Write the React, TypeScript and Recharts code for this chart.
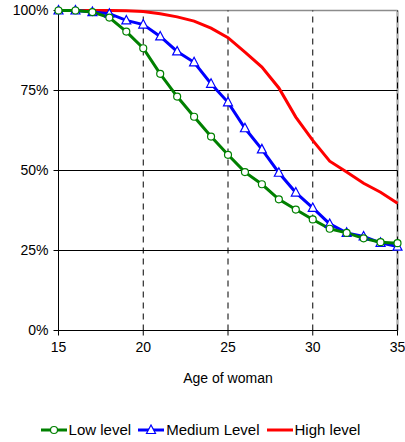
import React from "react";
import {
    LineChart,
    Line,
    XAxis,
    YAxis,
    ReferenceLine,
    Legend,
} from "recharts";

// Values (percent)
const ages = [15, 16, 17, 18, 19, 20, 21, 22, 23, 24, 25, 26, 27, 28, 29, 30, 31, 32, 33, 34, 35];
const lowLevel = [100, 100, 99.5, 97.8, 93.4, 88.2, 80.2, 73.1, 66.8, 60.6, 54.9, 49.5, 45.7, 41.0, 37.8, 34.7, 31.8, 30.5, 28.8, 27.6, 27.3];
const mediumLevel = [100, 100, 99.5, 99, 96.9, 95.6, 91.9, 87.2, 83.8, 77.1, 71.3, 63.2, 56.6, 49.3, 43.1, 38.3, 33.3, 30.5, 29.4, 27.4, 26.2];
const highLevel = [100, 100, 100, 100, 99.9, 99.7, 99.0, 98.0, 96.7, 94.5, 91.5, 87.0, 82.3, 75.8, 66.7, 59.4, 52.9, 49.5, 46.0, 43.2, 39.8];

const xTicks = [15, 20, 25, 30, 35];
const yTicks = [0, 25, 50, 75, 100];

const data = ages.map((age, i) => ({
    age,
    low: lowLevel[i],
    medium: mediumLevel[i],
    high: highLevel[i],
}));

const FONT = "'Liberation Sans', Arial, sans-serif";

const Triangle = (props: any) => {
    const { cx, cy, index } = props;
    if (cx == null || cy == null) return null;
    return (
        <polygon
            key={`tri-${index}`}
            points={`${cx},${cy - 5} ${cx - 4.5},${cy + 3.5} ${cx + 4.5},${cy + 3.5}`}
            fill="#fff"
            stroke="#0000ff"
            strokeWidth={1.2}
        />
    );
};

const legendItems = [
    { label: "Low level", color: "#008000", marker: "circle" },
    { label: "Medium Level", color: "#0000ff", marker: "triangle" },
    { label: "High level", color: "#ff0000", marker: "none" },
];

const renderLegend = () => (
    <div
        style={{
            display: "flex",
            justifyContent: "center",
            alignItems: "center",
            fontFamily: FONT,
            fontSize: 15,
            color: "#000",
            paddingTop: 19,
            paddingLeft: 10,
        }}
    >
        {legendItems.map((item) => (
            <div key={item.label} style={{ display: "flex", alignItems: "center", marginRight: 7 }}>
                <svg width={26} height={12} style={{ marginRight: 2 }}>
                    <line x1={0} y1={6} x2={26} y2={6} stroke={item.color} strokeWidth={3} />
                    {item.marker === "circle" && (
                        <circle cx={13} cy={6} r={3.5} fill="#fff" stroke={item.color} strokeWidth={1.2} />
                    )}
                    {item.marker === "triangle" && (
                        <polygon points="13,1 8.5,9.5 17.5,9.5" fill="#fff" stroke={item.color} strokeWidth={1.2} />
                    )}
                </svg>
                <span>{item.label}</span>
            </div>
        ))}
    </div>
);

export default function App() {
    return (
        <div style={{ position: "absolute", left: 0, top: 0, width: 405, height: 442, background: "#fff" }}>
            <LineChart
                width={405}
                height={442}
                data={data}
                margin={{ top: 10.5, right: 7.5, bottom: 0, left: 0.5 }}
            >
                {/* top and right border */}
                <ReferenceLine y={100} stroke="#8c8c8c" strokeWidth={1.5} />
                <ReferenceLine x={35} stroke="#b0b0b0" strokeWidth={2.5} />
                {/* horizontal grid */}
                {[25, 50, 75].map((v) => (
                    <ReferenceLine key={`h${v}`} y={v} stroke="#000" strokeWidth={1} />
                ))}
                {/* vertical dashed grid */}
                {[20, 25, 30, 35].map((v) => (
                    <ReferenceLine key={`v${v}`} x={v} stroke="#000" strokeWidth={1} strokeDasharray="6 5" />
                ))}
                <XAxis
                    dataKey="age"
                    type="number"
                    domain={[15, 35]}
                    ticks={xTicks}
                    height={71.5}
                    stroke="#000"
                    tickSize={5}
                    tickMargin={7}
                    tick={{ fontSize: 14, fill: "#000", fontFamily: FONT }}
                    label={{
                        value: "Age of woman",
                        position: "insideBottom",
                        offset: 19,
                        style: { fontSize: 14, fill: "#000", fontFamily: FONT },
                    }}
                />
                <YAxis
                    type="number"
                    domain={[0, 100]}
                    ticks={yTicks}
                    width={58}
                    stroke="#000"
                    tickSize={5}
                    tickMargin={5}
                    tickFormatter={(v) => `${v}%`}
                    tick={{ fontSize: 14, fill: "#000", fontFamily: FONT }}
                />
                <Line
                    dataKey="high"
                    stroke="#ff0000"
                    strokeWidth={3}
                    dot={false}
                    isAnimationActive={false}
                />
                <Line
                    dataKey="medium"
                    stroke="#0000ff"
                    strokeWidth={3}
                    dot={<Triangle />}
                    isAnimationActive={false}
                />
                <Line
                    dataKey="low"
                    stroke="#008000"
                    strokeWidth={3}
                    dot={{ r: 3.5, fill: "#fff", stroke: "#008000", strokeWidth: 1.2 }}
                    isAnimationActive={false}
                />
                <Legend verticalAlign="bottom" height={40} content={renderLegend} />
            </LineChart>
        </div>
    );
}
